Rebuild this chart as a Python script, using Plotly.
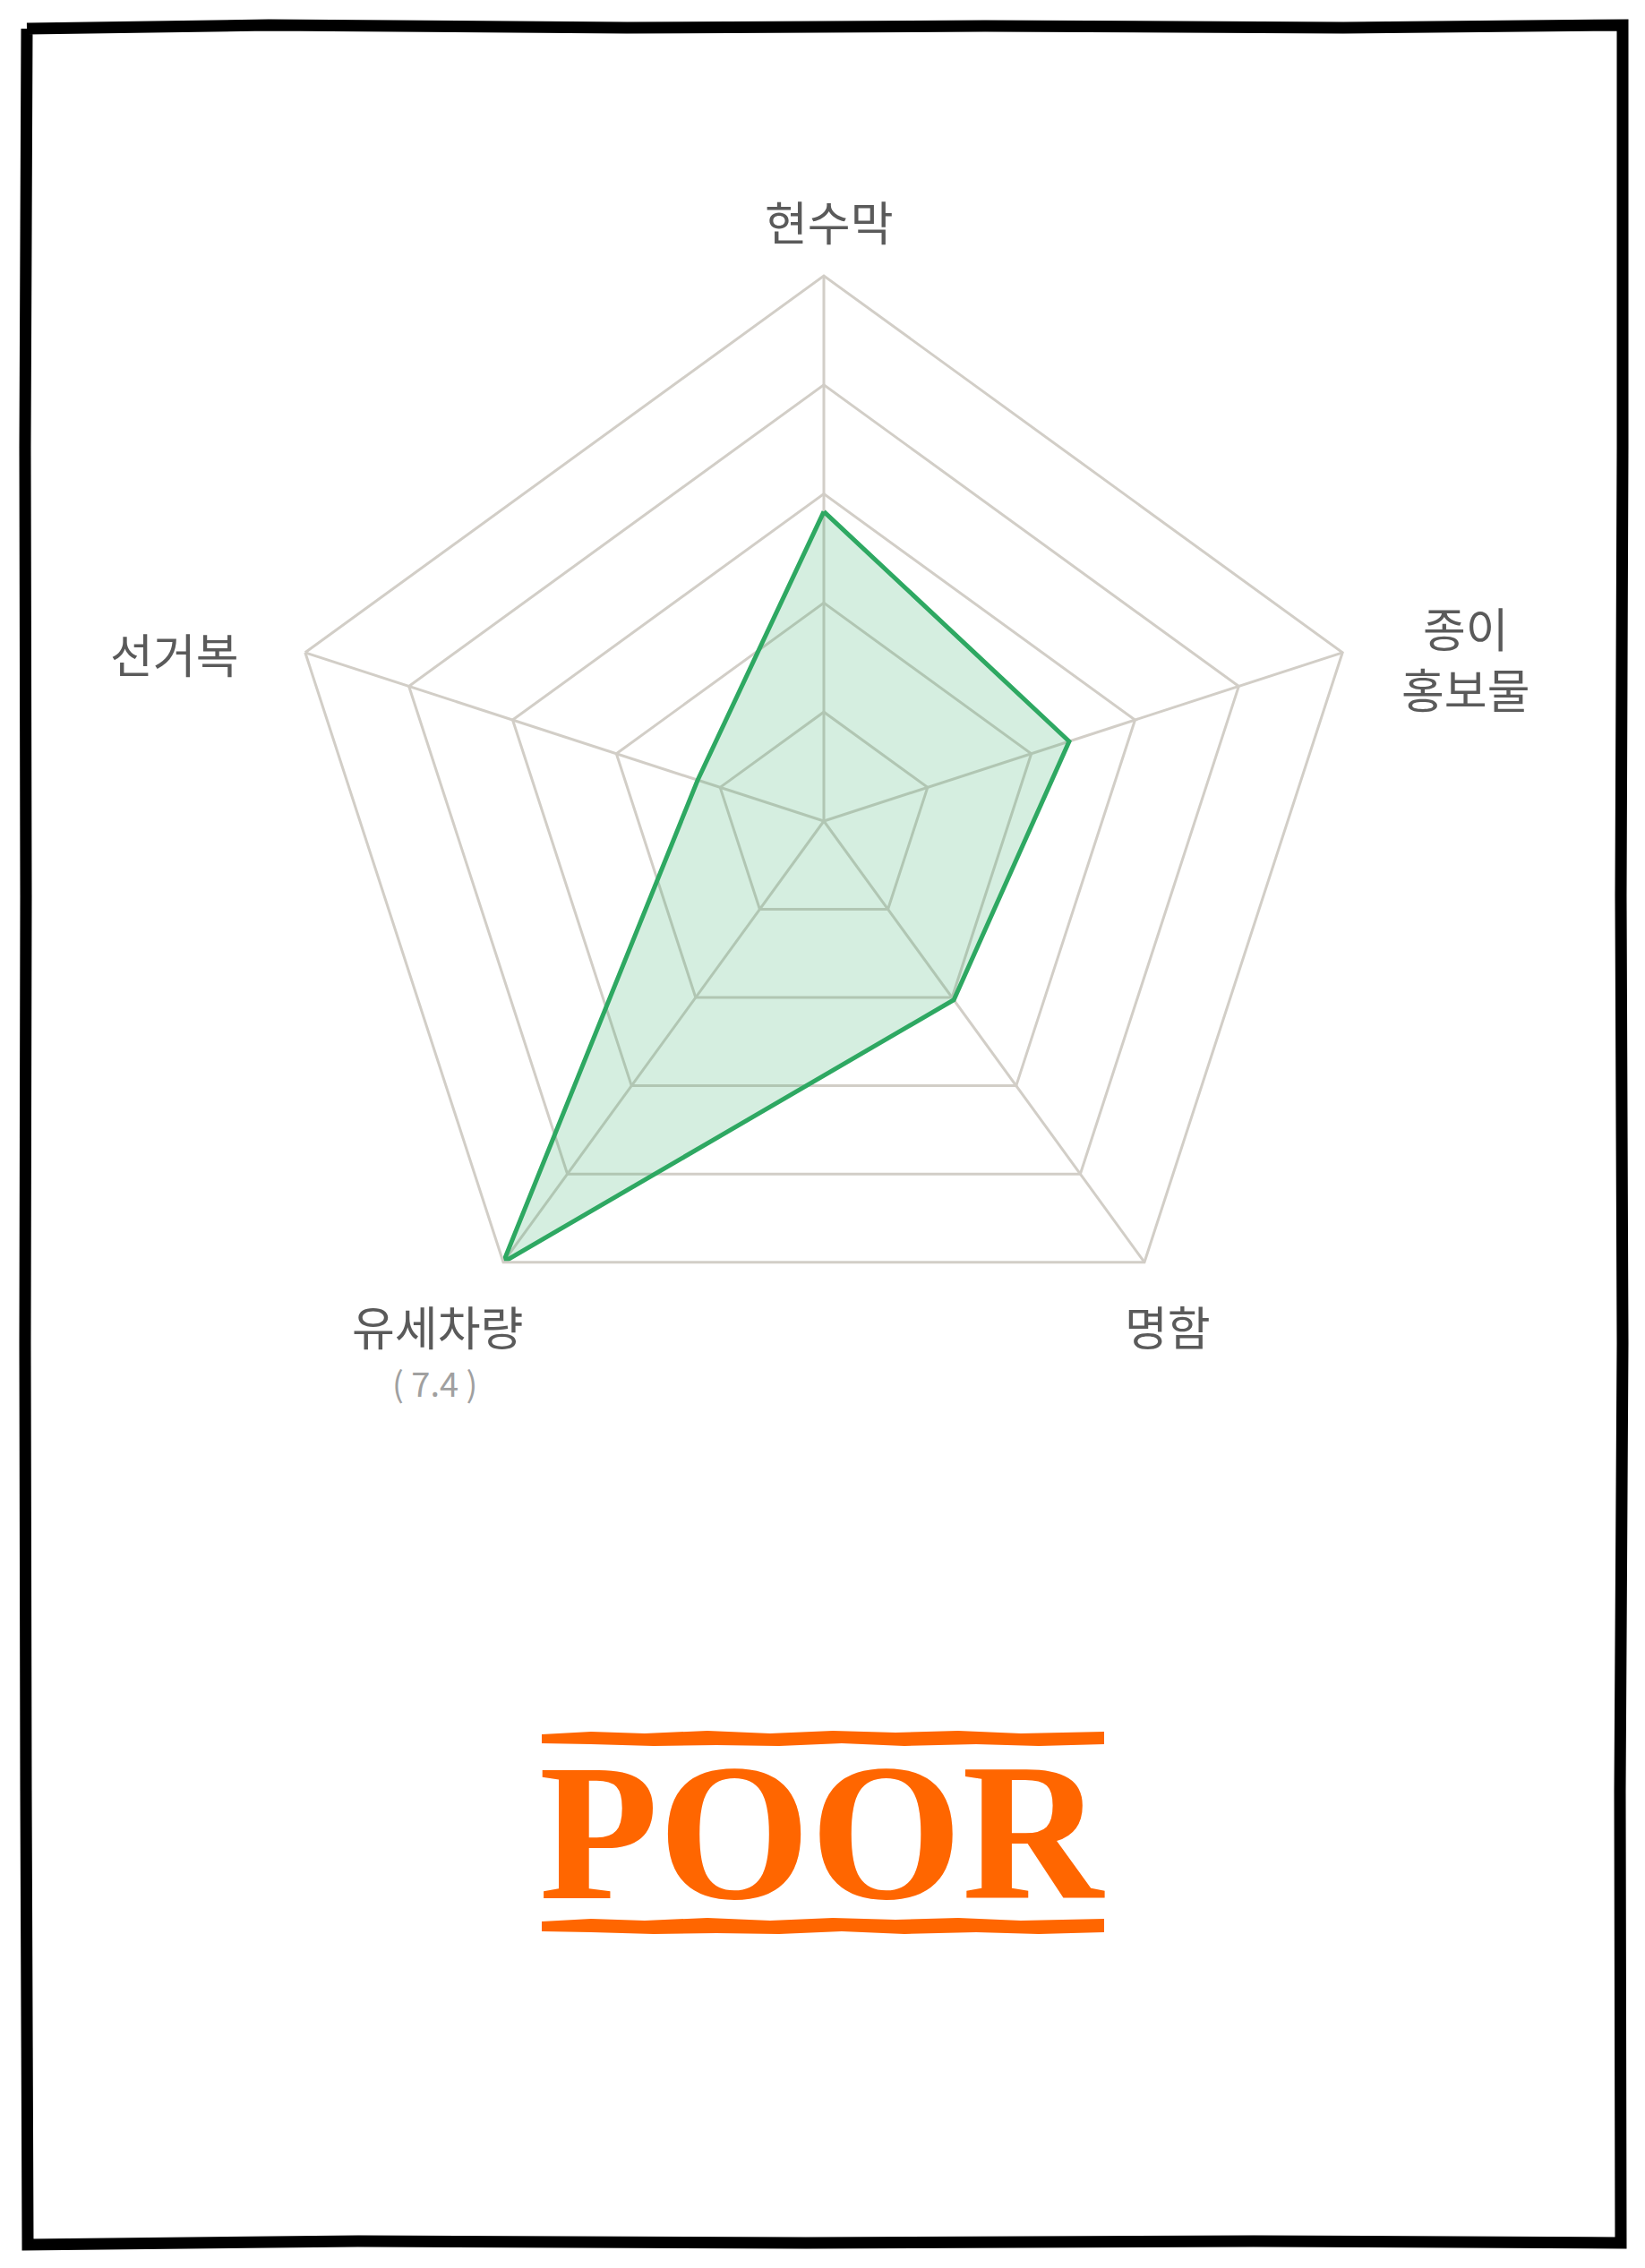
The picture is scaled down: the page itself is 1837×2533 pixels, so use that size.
import plotly.graph_objects as go

# ---- data ----
categories = ["현수막", "종이 홍보물", "명함", "유세차량", "선거복"]
label_text = ["현수막", "종이<br>홍보물", "명함", "유세차량", "선거복"]
values = [4.2, 3.5, 3.0, 7.4, 1.8]
max_note = "( 7.4 )"
r_max = 7.4
stamp_text = "POOR"

W, H = 1837, 2533


def px(x):
    return x / W


def py(y):
    return 1 - y / H


fig = go.Figure()
fig.add_trace(go.Scatterpolar(
    r=values + values[:1],
    theta=categories + categories[:1],
    mode="lines",
    fill="toself",
    fillcolor="rgba(46,168,98,0.2)",
    line=dict(color="#2EA862", width=5),
    hoverinfo="skip",
    showlegend=False,
))

grid = "#D2CEC7"
cx, cy, R = 920, 917, 609
fig.update_layout(
    width=W, height=H,
    margin=dict(l=0, r=0, t=0, b=0),
    paper_bgcolor="white",
    plot_bgcolor="white",
    polar=dict(
        domain=dict(x=[px(cx - R), px(cx + R)], y=[py(cy + R), py(cy - R)]),
        gridshape="linear",
        bgcolor="rgba(0,0,0,0)",
        radialaxis=dict(range=[0, r_max], dtick=r_max / 5, tick0=0,
                        showticklabels=False, ticks="", showline=False,
                        gridcolor=grid, gridwidth=3),
        angularaxis=dict(direction="clockwise", rotation=90,
                         categoryorder="array", categoryarray=categories,
                         showticklabels=False, ticks="",
                         linecolor=grid, linewidth=3,
                         gridcolor=grid, gridwidth=3),
    ),
)

# category labels placed around the radar (positions in page pixels)
label_pos = [(926, 247), (1637, 734), (1304, 1480), (488, 1480), (195, 729)]
lab_font = dict(family="Noto Sans CJK KR", size=52, color="#5a5a5a")
for txt, (lx, ly) in zip(label_text, label_pos):
    fig.add_annotation(x=px(lx), y=py(ly), xref="paper", yref="paper",
                       text=txt, showarrow=False, align="center",
                       font=lab_font, xanchor="center", yanchor="middle")
fig.add_annotation(x=px(485), y=py(1543), xref="paper", yref="paper",
                   text=max_note, showarrow=False,
                   font=dict(family="Noto Sans CJK KR", size=38, color="#a0a0a0"),
                   xanchor="center", yanchor="middle")

# hand-drawn border
border_pts = [(30, 32), (300, 28), (700, 31), (1100, 29), (1500, 31), (1812, 28),
              (1812, 500), (1810, 1000), (1812, 1500), (1809, 2000), (1810, 2505),
              (1400, 2503), (900, 2505), (400, 2503), (31, 2507),
              (29, 2000), (28, 1500), (29, 1000), (28, 500), (30, 32)]
path = "M " + " L ".join(f"{px(x):.5f},{py(y):.5f}" for x, y in border_pts)
fig.add_shape(type="path", path=path, xref="paper", yref="paper",
              line=dict(color="black", width=13), fillcolor="rgba(0,0,0,0)")

# stamp bars
orange = "#FF6600"
for y0, y1 in [(1933, 1950), (2142, 2160)]:
    top = [(605, y0 + 4), (660, y0 + 1), (720, y0 + 3), (790, y0), (860, y0 + 3),
           (930, y0), (1000, y0 + 2), (1070, y0), (1140, y0 + 3), (1233, y0 + 1)]
    bot = [(1233, y1 - 2), (1160, y1), (1090, y1 - 2), (1010, y1), (940, y1 - 3),
           (870, y1), (800, y1 - 1), (730, y1), (660, y1 - 2), (605, y1 - 3)]
    pts = top + bot
    p = "M " + " L ".join(f"{px(x):.5f},{py(y):.5f}" for x, y in pts) + " Z"
    fig.add_shape(type="path", path=p, xref="paper", yref="paper",
                  line=dict(width=0), fillcolor=orange)

fig.add_annotation(x=px(918), y=py(2046), xref="paper", yref="paper",
                   text=f"<b>{stamp_text}</b>", showarrow=False,
                   font=dict(family="Liberation Serif", size=218, color=orange),
                   xanchor="center", yanchor="middle")

fig.write_html("out.html")
